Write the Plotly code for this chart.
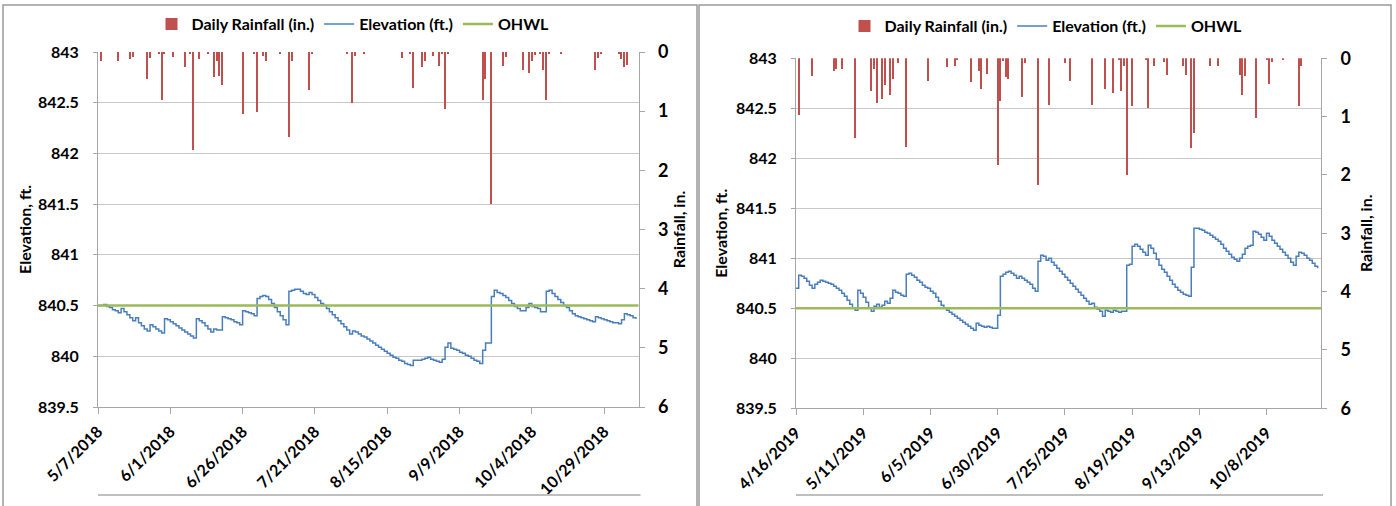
import pandas as pd
import plotly.graph_objects as go

# ---------------- 2018 season ----------------
elev18_start = "2018-05-07"
elev18 = [
    840.50, 840.50, 840.51, 840.49, 840.48, 840.46, 840.45, 840.43, 840.47, 840.44,
    840.41, 840.38, 840.35, 840.38, 840.33, 840.30, 840.27, 840.25, 840.31, 840.29,
    840.27, 840.25, 840.23, 840.37, 840.36, 840.34, 840.32, 840.30, 840.28, 840.26,
    840.24, 840.22, 840.20, 840.18, 840.37, 840.35, 840.33, 840.30, 840.27, 840.24,
    840.27, 840.26, 840.26, 840.39, 840.38, 840.37, 840.36, 840.34, 840.33, 840.31,
    840.45, 840.44, 840.43, 840.42, 840.40, 840.57, 840.59, 840.60, 840.59, 840.56,
    840.52, 840.48, 840.44, 840.40, 840.36, 840.31, 840.64, 840.65, 840.66, 840.66,
    840.64, 840.62, 840.61, 840.63, 840.61, 840.58, 840.55, 840.52, 840.50, 840.47,
    840.44, 840.41, 840.38, 840.35, 840.32, 840.29, 840.26, 840.22, 840.25, 840.24,
    840.22, 840.20, 840.19, 840.17, 840.15, 840.13, 840.11, 840.09, 840.07, 840.05,
    840.03, 840.01, 839.99, 839.98, 839.96, 839.95, 839.93, 839.92, 839.91, 839.96,
    839.96, 839.96, 839.97, 839.98, 839.99, 839.97, 839.96, 839.95, 839.94, 839.97,
    840.09, 840.13, 840.08, 840.07, 840.06, 840.04, 840.03, 840.01, 840.00, 839.98,
    839.96, 839.95, 839.93, 840.06, 840.13, 840.13, 840.59, 840.65, 840.63, 840.62,
    840.60, 840.58, 840.55, 840.52, 840.49, 840.47, 840.45, 840.45, 840.48, 840.52,
    840.49, 840.48, 840.47, 840.44, 840.44, 840.64, 840.65, 840.62, 840.59, 840.56,
    840.53, 840.50, 840.48, 840.45, 840.42, 840.40, 840.39, 840.38, 840.37, 840.36,
    840.35, 840.34, 840.39, 840.38, 840.37, 840.36, 840.35, 840.34, 840.33, 840.33,
    840.32, 840.36, 840.42, 840.41, 840.40, 840.38, 840.37,
]
rain18_dates = [
    "2018-05-08", "2018-05-14", "2018-05-18", "2018-05-19", "2018-05-24", "2018-05-25",
    "2018-05-28", "2018-05-29", "2018-05-30", "2018-06-02", "2018-06-06", "2018-06-08",
    "2018-06-09", "2018-06-11", "2018-06-14", "2018-06-16", "2018-06-17", "2018-06-18",
    "2018-06-19", "2018-06-26", "2018-06-30", "2018-07-01", "2018-07-03", "2018-07-04",
    "2018-07-09", "2018-07-12", "2018-07-13", "2018-07-19", "2018-07-20", "2018-08-01",
    "2018-08-03", "2018-08-04", "2018-08-07", "2018-08-20", "2018-08-23", "2018-08-24",
    "2018-08-27", "2018-08-28", "2018-08-31", "2018-09-02", "2018-09-03", "2018-09-04",
    "2018-09-05", "2018-09-17", "2018-09-18", "2018-09-20", "2018-09-24", "2018-09-25",
    "2018-10-01", "2018-10-03", "2018-10-04", "2018-10-05", "2018-10-07", "2018-10-08",
    "2018-10-09", "2018-10-10", "2018-10-14", "2018-10-26", "2018-10-27", "2018-10-28",
    "2018-11-03", "2018-11-04", "2018-11-05", "2018-11-06",
]
rain18_in = [
    0.16, 0.15, 0.12, 0.08, 0.46, 0.10,
    0.02, 0.81, 0.02, 0.09, 0.25, 0.03,
    1.66, 0.11, 0.02, 0.42, 0.16, 0.41,
    0.55, 1.04, 0.03, 1.01, 0.07, 0.15,
    0.03, 1.43, 0.15, 0.65, 0.03, 0.04,
    0.86, 0.06, 0.03, 0.10, 0.02, 0.60,
    0.25, 0.15, 0.06, 0.24, 0.03, 0.97,
    0.03, 0.81, 0.46, 2.57, 0.24, 0.09,
    0.30, 0.36, 0.15, 0.05, 0.04, 0.30,
    0.81, 0.04, 0.04, 0.30, 0.10, 0.02,
    0.04, 0.12, 0.25, 0.22,
]
x18_ticks = ["2018-05-07", "2018-06-01", "2018-06-26", "2018-07-21",
             "2018-08-15", "2018-09-09", "2018-10-04", "2018-10-29"]
x18_labels = ["5/7/2018", "6/1/2018", "6/26/2018", "7/21/2018",
              "8/15/2018", "9/9/2018", "10/4/2018", "10/29/2018"]
x18_range = ["2018-05-07", "2018-11-09 21:00"]

# ---------------- 2019 season ----------------
elev19_start = "2019-04-16"
elev19 = [
    840.70, 840.83, 840.82, 840.80, 840.77, 840.73, 840.70, 840.74, 840.76, 840.78,
    840.77, 840.76, 840.75, 840.74, 840.72, 840.70, 840.68, 840.65, 840.62, 840.58,
    840.54, 840.50, 840.48, 840.68, 840.65, 840.61, 840.56, 840.50, 840.47, 840.52,
    840.54, 840.51, 840.53, 840.57, 840.55, 840.60, 840.68, 840.66, 840.65, 840.63,
    840.62, 840.84, 840.85, 840.83, 840.81, 840.78, 840.76, 840.73, 840.71, 840.70,
    840.67, 840.65, 840.61, 840.57, 840.53, 840.50, 840.48, 840.46, 840.44, 840.42,
    840.40, 840.38, 840.36, 840.34, 840.32, 840.30, 840.28, 840.35, 840.33, 840.32,
    840.31, 840.32, 840.31, 840.30, 840.30, 840.43, 840.82, 840.84, 840.86, 840.87,
    840.85, 840.83, 840.80, 840.82, 840.80, 840.78, 840.76, 840.74, 840.70, 840.67,
    840.97, 841.03, 841.02, 840.98, 841.00, 840.96, 840.93, 840.90, 840.87, 840.84,
    840.81, 840.78, 840.75, 840.72, 840.69, 840.66, 840.63, 840.60, 840.57, 840.54,
    840.55, 840.51, 840.49, 840.47, 840.42, 840.48, 840.47, 840.46, 840.48, 840.47,
    840.46, 840.47, 840.47, 840.93, 840.94, 841.12, 841.14, 841.12, 841.09, 841.06,
    841.03, 841.13, 841.10, 841.05, 840.99, 840.93, 840.89, 840.86, 840.82, 840.78,
    840.74, 840.71, 840.68, 840.66, 840.64, 840.63, 840.62, 840.91, 841.30, 841.30,
    841.29, 841.28, 841.26, 841.25, 841.23, 841.21, 841.19, 841.17, 841.14, 841.10,
    841.07, 841.04, 841.01, 840.99, 840.97, 841.00, 841.04, 841.10, 841.12, 841.13,
    841.27, 841.26, 841.24, 841.21, 841.18, 841.25, 841.22, 841.18, 841.15, 841.12,
    841.09, 841.06, 841.03, 841.00, 840.96, 840.93, 841.02, 841.06, 841.05, 841.03,
    841.00, 840.98, 840.95, 840.92, 840.90,
]
rain19_dates = [
    "2019-04-17", "2019-04-22", "2019-04-30", "2019-05-01", "2019-05-03", "2019-05-08",
    "2019-05-14", "2019-05-15", "2019-05-16", "2019-05-18", "2019-05-19", "2019-05-21",
    "2019-05-22", "2019-05-24", "2019-05-27", "2019-06-04", "2019-06-11", "2019-06-14",
    "2019-06-15", "2019-06-20", "2019-06-23", "2019-06-24", "2019-06-26", "2019-06-30",
    "2019-07-01", "2019-07-02", "2019-07-03", "2019-07-04", "2019-07-09", "2019-07-10",
    "2019-07-15", "2019-07-19", "2019-07-25", "2019-07-27", "2019-08-04", "2019-08-09",
    "2019-08-12", "2019-08-14", "2019-08-15", "2019-08-16", "2019-08-17", "2019-08-19",
    "2019-08-24", "2019-08-25", "2019-08-27", "2019-08-31", "2019-09-01", "2019-09-07",
    "2019-09-08", "2019-09-10", "2019-09-11", "2019-09-17", "2019-09-20", "2019-09-28",
    "2019-09-29", "2019-09-30", "2019-10-04", "2019-10-08", "2019-10-09", "2019-10-10",
    "2019-10-14", "2019-10-20", "2019-10-21",
]
rain19_in = [
    0.97, 0.30, 0.23, 0.18, 0.19, 1.37,
    0.56, 0.19, 0.77, 0.70, 0.46, 0.63,
    0.36, 0.09, 1.52, 0.40, 0.16, 0.13,
    0.04, 0.41, 0.22, 0.53, 0.27, 1.83,
    0.74, 0.05, 0.32, 0.36, 0.67, 0.09,
    2.17, 0.80, 0.09, 0.40, 0.80, 0.53,
    0.60, 0.03, 0.57, 0.14, 2.00, 0.83,
    0.03, 0.85, 0.14, 0.07, 0.29, 0.13,
    0.29, 1.54, 1.29, 0.14, 0.14, 0.29,
    0.63, 0.31, 1.03, 0.03, 0.44, 0.06,
    0.04, 0.82, 0.14,
]
x19_ticks = ["2019-04-16", "2019-05-11", "2019-06-05", "2019-06-30",
             "2019-07-25", "2019-08-19", "2019-09-13", "2019-10-08"]
x19_labels = ["4/16/2019", "5/11/2019", "6/5/2019", "6/30/2019",
              "7/25/2019", "8/19/2019", "9/13/2019", "10/8/2019"]
x19_range = ["2019-04-16", "2019-10-28 06:00"]

OHWL = 840.5

W, H = 1396, 506
RED, BLUE, GREEN = "#C0504D", "#4A7EBB", "#9BBB59"
AXIS_GREY, GRID_GREY = "#A6A6A6", "#C8C8C8"
BOLD = dict(family="Lato", size=16, color="black", weight="bold")


def px_x(p):
    return p / W


def px_y(p):
    return 1 - p / H


fig = go.Figure()

panels = [
    # elev, start, rain dates, rain, ticks, labels, range, x-axis, elev y-axis, rain y-axis, legend
    (elev18, elev18_start, rain18_dates, rain18_in, x18_ticks, x18_labels, x18_range,
     "x", "y", "y2", "legend"),
    (elev19, elev19_start, rain19_dates, rain19_in, x19_ticks, x19_labels, x19_range,
     "x2", "y3", "y4", "legend2"),
]

for elev, start, rdates, rain, ticks, labels, xr, xa, ya, ya2, leg in panels:
    days = pd.date_range(start, periods=len(elev), freq="D")
    fig.add_trace(go.Bar(
        x=pd.to_datetime(rdates), y=rain, name="Daily Rainfall (in.)",
        marker=dict(color=RED, line=dict(width=0)), width=0.4 * 86400000,
        xaxis=xa, yaxis=ya2, legend=leg,
    ))
    fig.add_trace(go.Scatter(
        x=days, y=elev, name="Elevation (ft.)", mode="lines",
        line=dict(color=BLUE, width=1.5, shape="hv"),
        xaxis=xa, yaxis=ya, legend=leg,
    ))
    fig.add_trace(go.Scatter(
        x=[pd.Timestamp(xr[0]), pd.Timestamp(xr[1])], y=[OHWL, OHWL], name="OHWL",
        mode="lines", line=dict(color=GREEN, width=2.5),
        xaxis=xa, yaxis=ya, legend=leg,
    ))

# pixel geometry of the two plot areas
areas = {
    "left": dict(x0=98, x1=638.5, ytop=52, ybot=407),
    "right": dict(x0=796, x1=1321, ytop=58.3, ybot=408.3),
}


def x_axis(area, ticks, labels, xr, anchor):
    return dict(
        domain=[px_x(area["x0"]), px_x(area["x1"])], anchor=anchor, type="date",
        range=xr, tickvals=ticks, ticktext=labels, tickangle=-45, automargin=False,
        showgrid=False, zeroline=False, showline=True, linecolor=AXIS_GREY, linewidth=1,
        ticks="outside", ticklen=6, tickcolor=AXIS_GREY, tickfont=BOLD,
        ticklabelstandoff=2,
    )


def elev_axis(area, anchor, standoff):
    return dict(
        domain=[px_y(area["ybot"]), px_y(area["ytop"])], anchor=anchor,
        range=[839.5, 843], tick0=839.5, dtick=0.5, automargin=False,
        showgrid=True, gridcolor=GRID_GREY, gridwidth=1, zeroline=False,
        showline=True, linecolor=AXIS_GREY, ticks="outside", ticklen=4, tickcolor=AXIS_GREY,
        tickfont=BOLD, ticklabelstandoff=11,
        title=dict(text="Elevation, ft.", font=BOLD, standoff=standoff),
    )


def rain_axis(overlay, anchor, standoff):
    return dict(
        overlaying=overlay, anchor=anchor, side="right", automargin=False,
        range=[6, 0], tick0=0, dtick=1, showgrid=False, zeroline=False,
        showline=True, linecolor=AXIS_GREY, ticks="outside", ticklen=5, tickcolor=AXIS_GREY,
        tickfont=dict(BOLD, size=18), ticklabelstandoff=10,
        title=dict(text="Rainfall, in.", font=BOLD, standoff=standoff),
    )


legend_style = dict(
    orientation="h", xanchor="center", yanchor="middle",
    font=dict(family="Lato", size=16, color="black", weight="bold"),
    bgcolor="rgba(0,0,0,0)", itemwidth=30, tracegroupgap=0,
)

fig.update_layout(
    width=W, height=H, margin=dict(l=0, r=0, t=0, b=0, autoexpand=False),
    paper_bgcolor="white", plot_bgcolor="white",
    font=dict(family="Lato", color="black"),
    bargap=0,
    xaxis=x_axis(areas["left"], x18_ticks, x18_labels, x18_range, "y"),
    yaxis=elev_axis(areas["left"], "x", 2),
    yaxis2=rain_axis("y", "x", 6),
    xaxis2=x_axis(areas["right"], x19_ticks, x19_labels, x19_range, "y3"),
    yaxis3=elev_axis(areas["right"], "x2", 4),
    yaxis4=rain_axis("y3", "x2", 10),
    legend=dict(legend_style, x=px_x(353), y=px_y(24)),
    legend2=dict(legend_style, x=px_x(1046), y=px_y(26)),
    showlegend=True,
)

# chart frames and the grey rule under the date labels
frame = dict(color="#9A9A9A", width=1.5)
shapes = [
    dict(type="rect", xref="paper", yref="paper", x0=px_x(3), x1=px_x(697),
         y0=-0.02, y1=px_y(5), line=frame),
    dict(type="rect", xref="paper", yref="paper", x0=px_x(699), x1=px_x(1391),
         y0=-0.02, y1=px_y(5), line=frame),
]
for area in areas.values():
    shapes.append(dict(type="line", xref="paper", yref="paper",
                       x0=px_x(area["x0"]), x1=px_x(area["x1"] + 2),
                       y0=px_y(495), y1=px_y(495),
                       line=dict(color="#BFBFBF", width=2)))
fig.update_layout(shapes=shapes)

# the page's default body margin would shift the figure by 8px
fig.write_html("out.html", config={"displayModeBar": False},
               post_script="document.body.style.margin = '0';")
